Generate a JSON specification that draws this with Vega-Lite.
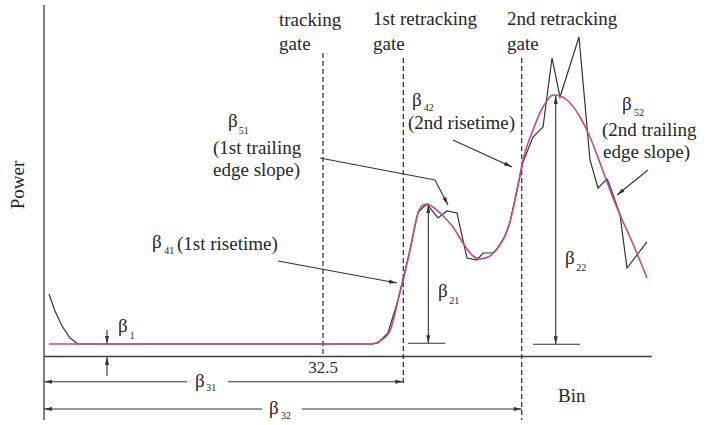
{
  "$schema": "https://vega.github.io/schema/vega-lite/v6.json",
  "width": 711,
  "height": 425,
  "autosize": {"type": "fit", "contains": "padding"},
  "padding": 0,
  "background": "white",
  "config": {"view": {"stroke": null}},
  "datasets": {
    "segments": [
      {"kind": "axis", "bin": 0, "power": 117.17, "bin2": 0, "power2": -21.17},
      {"kind": "axis", "bin": 0, "power": 0, "bin2": 70.82, "power2": 0},
      {"kind": "gate", "bin": 32.5, "power": 101.17, "bin2": 32.5, "power2": 0},
      {"kind": "gate", "bin": 41.85, "power": 99.5, "bin2": 41.85, "power2": -9.17},
      {"kind": "gate", "bin": 55.65, "power": 99.5, "bin2": 55.65, "power2": -21.17},
      {"kind": "dim", "bin": 0, "power": -8.4, "bin2": 16.66, "power2": -8.4},
      {"kind": "dim", "bin": 21.43, "power": -8.4, "bin2": 41.85, "power2": -8.4},
      {"kind": "dim", "bin": 0, "power": -17.5, "bin2": 25.39, "power2": -17.5},
      {"kind": "dim", "bin": 30.05, "power": -17.5, "bin2": 55.65, "power2": -17.5},
      {"kind": "dim", "bin": 7.34, "power": 8.83, "bin2": 7.34, "power2": 4.17},
      {"kind": "dim", "bin": 7.34, "power": -6.5, "bin2": 7.34, "power2": -0.17},
      {"kind": "dim", "bin": 44.77, "power": 50.5, "bin2": 44.77, "power2": 4.4},
      {"kind": "dim", "bin": 42.4, "power": 4.4, "bin2": 46.71, "power2": 4.4},
      {"kind": "dim", "bin": 59.61, "power": 86.83, "bin2": 59.61, "power2": 4.1},
      {"kind": "dim", "bin": 56.96, "power": 4.1, "bin2": 62.44, "power2": 4.1},
      {"kind": "leader", "bin": 27.26, "power": 31.83, "bin2": 41.12, "power2": 24.5},
      {"kind": "leader", "bin": 32.15, "power": 66.17, "bin2": 45.55, "power2": 58.83},
      {"kind": "leader", "bin": 45.55, "power": 58.83, "bin2": 47.06, "power2": 50.5},
      {"kind": "leader", "bin": 47.64, "power": 72.17, "bin2": 54.52, "power2": 63.17},
      {"kind": "leader", "bin": 70.36, "power": 62.17, "bin2": 66.75, "power2": 53.83}
    ],
    "heads": [
      {"bin": 7.34, "power": 4.17, "heading": 180},
      {"bin": 7.34, "power": -0.17, "heading": 0},
      {"bin": 0, "power": -8.4, "heading": 270},
      {"bin": 41.85, "power": -8.4, "heading": 90},
      {"bin": 0, "power": -17.5, "heading": 270},
      {"bin": 55.65, "power": -17.5, "heading": 90},
      {"bin": 44.77, "power": 50.5, "heading": 0},
      {"bin": 44.77, "power": 4.4, "heading": 180},
      {"bin": 59.61, "power": 86.83, "heading": 0},
      {"bin": 59.61, "power": 4.1, "heading": 180},
      {"bin": 41.12, "power": 24.5, "heading": 100.5},
      {"bin": 47.06, "power": 50.5, "heading": 152.5},
      {"bin": 54.52, "power": 63.17, "heading": 114.6},
      {"bin": 66.75, "power": 53.83, "heading": 231.1}
    ],
    "observed": [
      {"bin": 0.58, "power": 20.83}, {"bin": 1.28, "power": 15.17},
      {"bin": 2.1, "power": 10.17}, {"bin": 3.03, "power": 6.17},
      {"bin": 3.96, "power": 4.17}, {"bin": 38.21, "power": 4.17},
      {"bin": 38.91, "power": 4.5}, {"bin": 40.07, "power": 7.83},
      {"bin": 41.24, "power": 18.83}, {"bin": 42.63, "power": 35.5},
      {"bin": 43.57, "power": 48.17}, {"bin": 44.61, "power": 50.83},
      {"bin": 45.9, "power": 46.17}, {"bin": 46.94, "power": 48.5},
      {"bin": 48.11, "power": 47.83}, {"bin": 49.27, "power": 32.83},
      {"bin": 50.44, "power": 32.17}, {"bin": 51.14, "power": 34.5},
      {"bin": 52.3, "power": 34.5}, {"bin": 52.77, "power": 35.83},
      {"bin": 53.7, "power": 40.17}, {"bin": 54.28, "power": 44.83},
      {"bin": 55.1, "power": 55.5}, {"bin": 55.8, "power": 64.83},
      {"bin": 56.96, "power": 73.17}, {"bin": 58.13, "power": 76.5},
      {"bin": 59.18, "power": 99.5}, {"bin": 60.11, "power": 86.5},
      {"bin": 62.32, "power": 106.5}, {"bin": 63.6, "power": 65.5},
      {"bin": 64.54, "power": 56.17}, {"bin": 65.58, "power": 59.17},
      {"bin": 65.93, "power": 56.83}, {"bin": 67.1, "power": 47.17},
      {"bin": 67.91, "power": 29.5}, {"bin": 70.24, "power": 38.17}
    ],
    "fitted": [
      {"bin": 0.58, "power": 4.17}, {"bin": 38.21, "power": 4.17},
      {"bin": 39.14, "power": 5.17}, {"bin": 40.3, "power": 8.5},
      {"bin": 41.47, "power": 21.5}, {"bin": 41.82, "power": 25.17},
      {"bin": 42.63, "power": 35.5}, {"bin": 43.57, "power": 47.83},
      {"bin": 44.03, "power": 50.17}, {"bin": 44.61, "power": 50.83},
      {"bin": 45.31, "power": 49.83}, {"bin": 46.13, "power": 47.83},
      {"bin": 47.64, "power": 43.17}, {"bin": 48.81, "power": 37.83},
      {"bin": 49.97, "power": 33.5}, {"bin": 50.79, "power": 32.5},
      {"bin": 51.95, "power": 33.5}, {"bin": 52.77, "power": 35.83},
      {"bin": 53.7, "power": 40.17}, {"bin": 54.28, "power": 44.83},
      {"bin": 55.1, "power": 55.5}, {"bin": 55.8, "power": 65.5},
      {"bin": 56.96, "power": 75.5}, {"bin": 58.13, "power": 83.17},
      {"bin": 59.29, "power": 87.17}, {"bin": 60.11, "power": 86.83},
      {"bin": 60.92, "power": 85.5}, {"bin": 62.44, "power": 79.83},
      {"bin": 63.6, "power": 73.17}, {"bin": 64.77, "power": 64.5},
      {"bin": 65.93, "power": 55.5}, {"bin": 67.1, "power": 47.17},
      {"bin": 68.26, "power": 39.83}, {"bin": 70.24, "power": 26.17}
    ],
    "texts": [
      {"role": "label", "text": "tracking", "bin": 27.37, "power": 110.17},
      {"role": "label", "text": "gate", "bin": 27.37, "power": 102.17},
      {"role": "label", "text": "1st retracking", "bin": 38.33, "power": 110.5},
      {"role": "label", "text": "gate", "bin": 38.33, "power": 102.17},
      {"role": "label", "text": "2nd retracking", "bin": 53.93, "power": 110.5},
      {"role": "label", "text": "gate", "bin": 53.93, "power": 102.17},
      {"role": "label", "text": "β", "bin": 21.43, "power": 76.5},
      {"role": "label", "text": "(1st trailing", "bin": 19.69, "power": 67.5},
      {"role": "label", "text": "edge slope)", "bin": 19.69, "power": 60.0},
      {"role": "label", "text": "β", "bin": 12.58, "power": 36.17},
      {"role": "label", "text": "(1st risetime)", "bin": 15.49, "power": 35.5},
      {"role": "label", "text": "β", "bin": 8.62, "power": 8.17},
      {"role": "label", "text": "β", "bin": 17.59, "power": -10.17},
      {"role": "label", "text": "β", "bin": 26.21, "power": -19.17},
      {"role": "label", "text": "β", "bin": 45.9, "power": 19.83},
      {"role": "label", "text": "β", "bin": 60.69, "power": 30.83},
      {"role": "label", "text": "Bin", "bin": 59.88, "power": -15.17},
      {"role": "label", "text": "β", "bin": 42.87, "power": 83.5},
      {"role": "label", "text": "(2nd risetime)", "bin": 42.4, "power": 75.83},
      {"role": "label", "text": "β", "bin": 67.33, "power": 82.0},
      {"role": "label", "text": "(2nd trailing", "bin": 65.0, "power": 73.5},
      {"role": "label", "text": "edge slope)", "bin": 65.12, "power": 66.0},
      {"role": "sub", "text": "51", "bin": 22.7, "power": 74.0},
      {"role": "sub", "text": "41", "bin": 14.0, "power": 34.17},
      {"role": "sub", "text": "1", "bin": 10.0, "power": 5.83},
      {"role": "sub", "text": "31", "bin": 18.9, "power": -11.5},
      {"role": "sub", "text": "32", "bin": 27.6, "power": -20.83},
      {"role": "sub", "text": "21", "bin": 47.2, "power": 17.5},
      {"role": "sub", "text": "22", "bin": 62.0, "power": 28.5},
      {"role": "sub", "text": "42", "bin": 44.25, "power": 81.83},
      {"role": "sub", "text": "52", "bin": 68.72, "power": 80.17},
      {"role": "tick", "text": "32.5", "bin": 32.5, "power": -5.5},
      {"role": "title", "text": "Power", "bin": -3.03, "power": 57.17}
    ]
  },
  "encoding": {
    "x": {"field": "bin", "type": "quantitative", "scale": {"domain": [-5.1255, 77.697], "nice": false, "zero": false}, "axis": null},
    "y": {"field": "power", "type": "quantitative", "scale": {"domain": [-22.833, 118.833], "nice": false, "zero": false}, "axis": null}
  },
  "layer": [
    {
      "data": {"name": "segments"},
      "transform": [{"filter": "datum.kind === 'axis'"}],
      "mark": {"type": "rule", "color": "#3c3c3c", "strokeWidth": 1.3},
      "encoding": {"x2": {"field": "bin2"}, "y2": {"field": "power2"}}
    },
    {
      "data": {"name": "segments"},
      "transform": [{"filter": "datum.kind === 'gate'"}],
      "mark": {"type": "rule", "color": "#2a2a2a", "strokeWidth": 1.2, "strokeDash": [5, 3]},
      "encoding": {"x2": {"field": "bin2"}, "y2": {"field": "power2"}}
    },
    {
      "data": {"name": "segments"},
      "transform": [{"filter": "datum.kind === 'dim' || datum.kind === 'leader'"}],
      "mark": {"type": "rule", "color": "#333333", "strokeWidth": 1.1},
      "encoding": {"x2": {"field": "bin2"}, "y2": {"field": "power2"}}
    },
    {
      "data": {"name": "observed"},
      "mark": {"type": "line", "color": "#333333", "strokeWidth": 1.2}
    },
    {
      "data": {"name": "fitted"},
      "mark": {"type": "line", "color": "#c4488a", "strokeWidth": 1.6, "interpolate": "monotone"}
    },
    {
      "data": {"name": "heads"},
      "mark": {"type": "point", "shape": "M0,0L-1,4L1,4Z", "size": 16, "filled": true, "color": "#333333", "opacity": 1, "strokeWidth": 0},
      "encoding": {"angle": {"field": "heading", "type": "quantitative", "scale": null}}
    },
    {
      "data": {"name": "texts"},
      "transform": [{"filter": "datum.role === 'label'"}],
      "mark": {"type": "text", "font": "Liberation Serif", "fontSize": 19, "align": "left", "baseline": "alphabetic", "color": "#262626"},
      "encoding": {"text": {"field": "text"}}
    },
    {
      "data": {"name": "texts"},
      "transform": [{"filter": "datum.role === 'sub'"}],
      "mark": {"type": "text", "font": "Liberation Serif", "fontSize": 10, "align": "left", "baseline": "alphabetic", "color": "#262626"},
      "encoding": {"text": {"field": "text"}}
    },
    {
      "data": {"name": "texts"},
      "transform": [{"filter": "datum.role === 'tick'"}],
      "mark": {"type": "text", "font": "Liberation Serif", "fontSize": 17, "align": "center", "baseline": "alphabetic", "color": "#333333"},
      "encoding": {"text": {"field": "text"}}
    },
    {
      "data": {"name": "texts"},
      "transform": [{"filter": "datum.role === 'title'"}],
      "mark": {"type": "text", "font": "Liberation Serif", "fontSize": 19, "align": "center", "baseline": "middle", "angle": 270, "color": "#262626"},
      "encoding": {"text": {"field": "text"}}
    }
  ]
}
